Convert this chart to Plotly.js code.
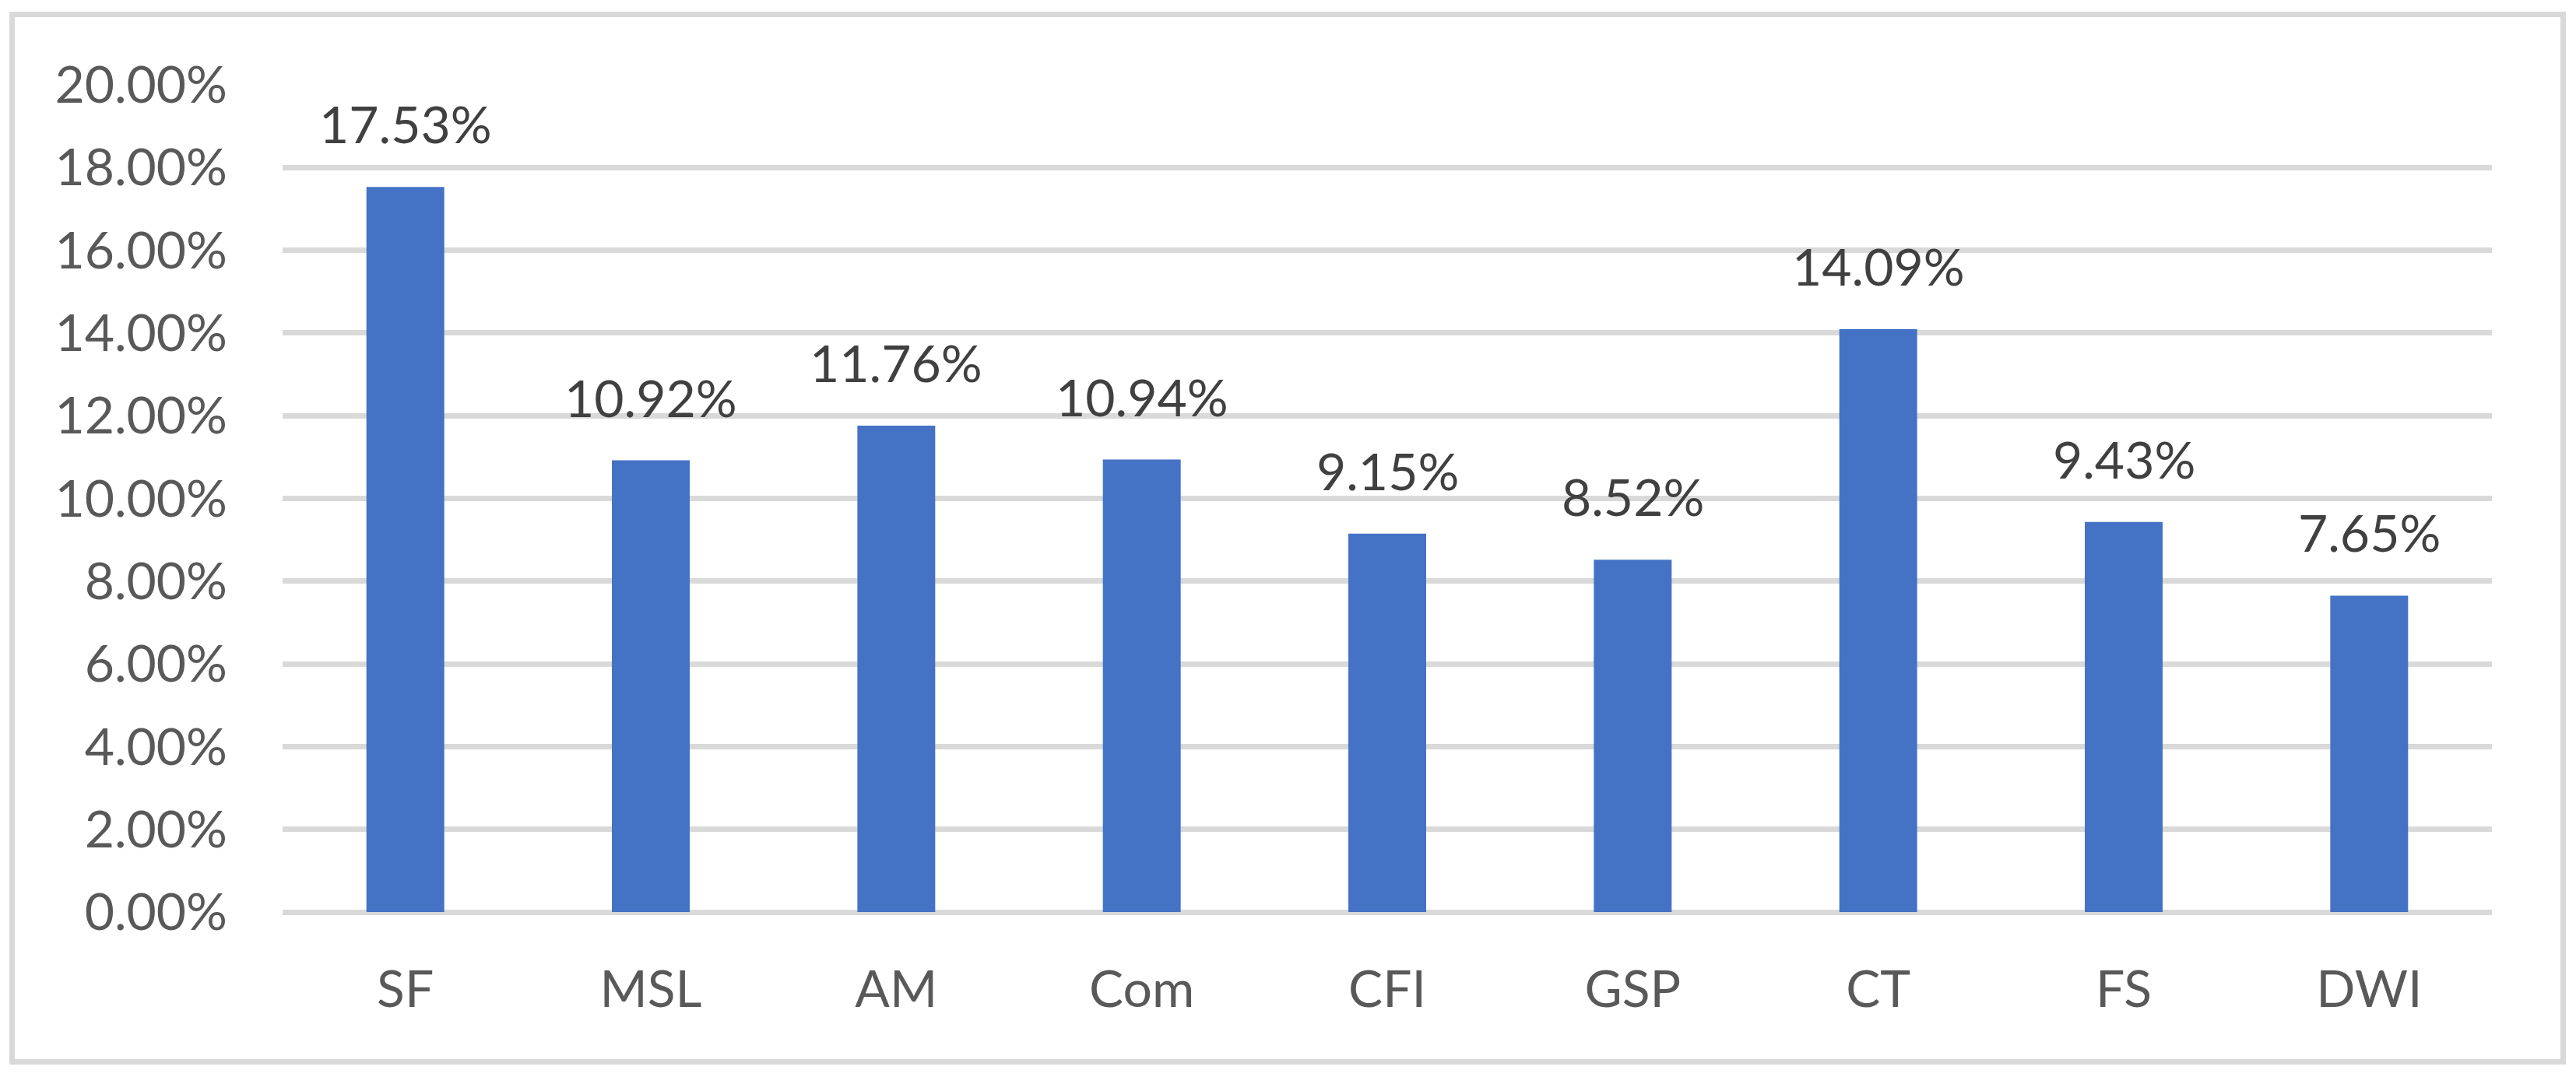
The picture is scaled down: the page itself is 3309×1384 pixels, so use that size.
<!DOCTYPE html>
<html>
<head>
<meta charset="utf-8">
<script src="https://cdn.plot.ly/plotly-3.0.1.min.js"></script>
<style>
html,body{margin:0;padding:0;background:#fff;}
#wrap{position:relative;width:3309px;height:1384px;}
#chart{width:3309px;height:1384px;}
#frame{position:absolute;left:12px;top:15px;width:3284px;height:1353px;border:7px solid #d9d9d9;box-sizing:border-box;pointer-events:none;}
</style>
</head>
<body>
<div id="wrap"><div id="chart"></div><div id="frame"></div></div>
<script>
const categories = ["SF", "MSL", "AM", "Com", "CFI", "GSP", "CT", "FS", "DWI"];
const values = [0.1753, 0.1092, 0.1176, 0.1094, 0.0915, 0.0852, 0.1409, 0.0943, 0.0765];
const yTickValues = [0, 0.02, 0.04, 0.06, 0.08, 0.10, 0.12, 0.14, 0.16, 0.18, 0.20];

const FONT = "Lato, 'Open Sans', sans-serif";

const trace = {
  type: "bar",
  x: categories,
  y: values,
  marker: {color: "#4472c4", line: {width: 0}},
  hoverinfo: "none"
};

const annotations = categories.map((c, i) => ({
  x: c,
  y: values[i],
  xref: "x",
  yref: "y",
  text: (values[i] * 100).toFixed(2) + "%",
  showarrow: false,
  yanchor: "bottom",
  yshift: 40,
  font: {family: FONT, size: 66, color: "#404040"}
}));

const layout = {
  width: 3309,
  height: 1384,
  margin: {l: 363, r: 108, t: 108.5, b: 211.5, pad: 0},
  paper_bgcolor: "#ffffff",
  plot_bgcolor: "#ffffff",
  showlegend: false,
  bargap: 0.683,
  xaxis: {
    type: "category",
    showgrid: false,
    showline: false,
    zeroline: false,
    ticks: "",
    ticklabelstandoff: 55,
    tickfont: {family: FONT, size: 66, color: "#595959"}
  },
  yaxis: {
    range: [0, 0.2],
    tickvals: yTickValues,
    tickformat: ".2%",
    showgrid: true,
    gridcolor: "#d9d9d9",
    gridwidth: 7,
    zeroline: true,
    zerolinecolor: "#d9d9d9",
    zerolinewidth: 7,
    showline: false,
    ticks: "",
    ticklabelstandoff: 70,
    tickfont: {family: FONT, size: 66, color: "#595959"}
  },
  annotations: annotations
};

Plotly.newPlot("chart", [trace], layout, {staticPlot: true, displayModeBar: false});
</script>
</body>
</html>
